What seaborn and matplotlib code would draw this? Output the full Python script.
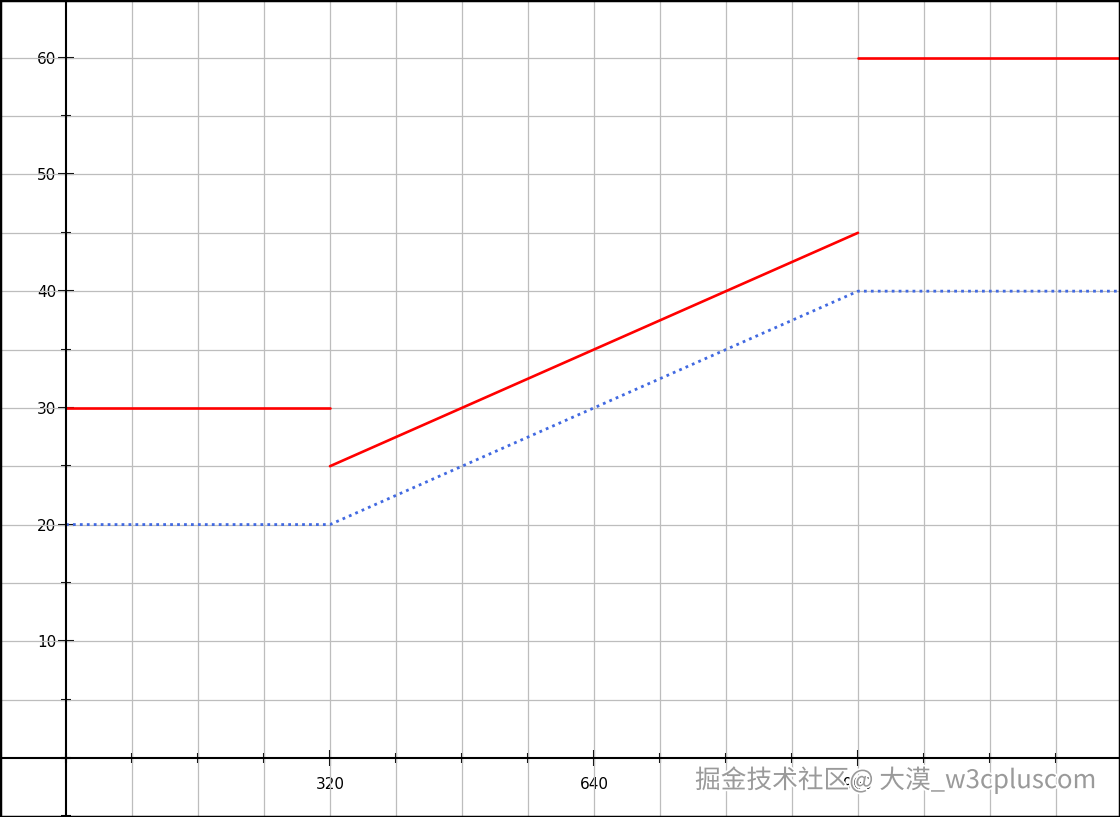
import matplotlib
matplotlib.use("Agg")
import matplotlib.pyplot as plt
import matplotlib.patheffects as pe
from matplotlib.ticker import MultipleLocator, FixedLocator
import pandas as pd
import seaborn as sns

# Data
red_x = [0, 320, None, 320, 960, None, 960, 1280]
red_y = [30, 30, None, 25, 45, None, 60, 60]
blue_x = [0, 320, 960, 1280]
blue_y = [20, 20, 40, 40]
x_labels = [320, 640, 960, 1280]
y_labels = [10, 20, 30, 40, 50, 60]

sns.set_theme(style="white")
plt.rcParams['font.family'] = ['DejaVu Sans']

fig = plt.figure(figsize=(11.2, 8.17), dpi=100)
ax = fig.add_axes([0, 0, 1, 1])

# red segments
segs = [(0, 2), (3, 5), (6, 8)]
for a, b in segs:
    df = pd.DataFrame({"x": red_x[a:b], "y": red_y[a:b]})
    sns.lineplot(data=df, x="x", y="y", ax=ax, color="#ff0000", linewidth=1.9, zorder=4)

blue = pd.DataFrame({"x": blue_x, "y": blue_y})
sns.lineplot(data=blue, x="x", y="y", ax=ax, color="#4169e1", linewidth=2.0,
             linestyle=(0, (1, 1.5)), zorder=4)

ax.set_xlim(-80, 1277.6)
ax.set_ylim(-5.06, 64.95)

# grid
for gx in range(80, 1280, 80):
    ax.axvline(gx, color="#bdbdbd", linewidth=0.9, zorder=1)
for gy in range(5, 65, 5):
    ax.axhline(gy, color="#bdbdbd", linewidth=0.9, zorder=1)

for side in ["top", "right"]:
    ax.spines[side].set_visible(False)
for side in ["left", "bottom"]:
    ax.spines[side].set_position(("data", 0))
    ax.spines[side].set_linewidth(1.5)
    ax.spines[side].set_color("black")
    ax.spines[side].set_zorder(5)

ax.xaxis.set_major_locator(FixedLocator(x_labels))
ax.xaxis.set_minor_locator(MultipleLocator(80))
ax.yaxis.set_major_locator(FixedLocator(y_labels))
ax.yaxis.set_minor_locator(MultipleLocator(5))
ax.set_xticklabels([str(v) for v in x_labels])
ax.set_yticklabels([str(v) for v in y_labels])

ax.tick_params(axis="x", which="major", direction="inout", length=12, width=1.5,
               labelsize=11, pad=8, color="black", labelcolor="black", bottom=True)
ax.tick_params(axis="x", which="minor", direction="inout", length=7, width=1.5,
               color="black", bottom=True)
ax.tick_params(axis="y", which="major", direction="inout", length=12, width=1.5,
               labelsize=11, pad=1, color="black", labelcolor="black", left=True)
ax.tick_params(axis="y", which="minor", direction="inout", length=7, width=1.5,
               color="black", left=True)
ax.set_xlabel("")
ax.set_ylabel("")

# figure border
ax.patch.set_visible(False)
fig.patches.append(plt.Rectangle((0, 0), 1, 1, transform=fig.transFigure,
                                 fill=False, edgecolor="black", linewidth=2.5, zorder=10))

# watermark
fig.text(0.8, 0.045, "掘金技术社区@ 大漠_w3cpluscom", ha="center", va="center",
         fontsize=18.5, color="#9a9a9a",
         family=["Noto Sans CJK SC", "DejaVu Sans"],
         path_effects=[pe.withStroke(linewidth=2.5, foreground="white")], zorder=11)

fig.savefig("out.png", dpi=100)
